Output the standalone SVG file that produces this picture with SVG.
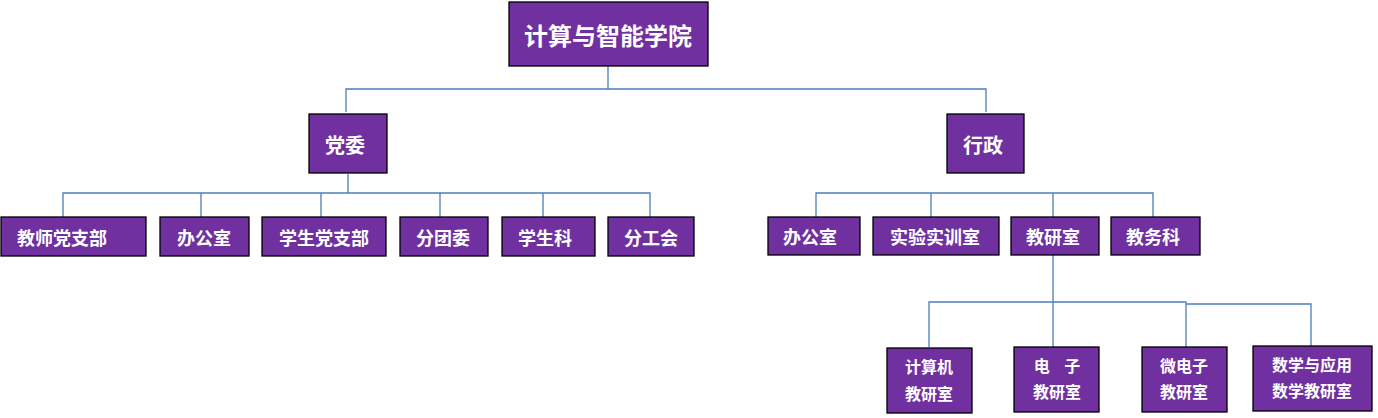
<svg xmlns="http://www.w3.org/2000/svg" width="1378" height="418" viewBox="0 0 1378 418">
<style>
.b{fill:#7030A0;stroke:#000;stroke-width:1.3}
text{fill:#fff;font-family:"Noto Sans CJK SC",sans-serif;font-weight:bold;text-anchor:middle;dominant-baseline:central}
.c{fill:none;stroke:#4A7EBB;stroke-width:1.3}
</style>
<rect width="1378" height="418" fill="#fff"/>
<g id="connectors" class="c">
<path d="M608 66V89M346 112V89H986V112"/>
<path d="M348 174V193M63 217V193H650V217M201 193V217M321 193V217M440 193V217M543 193V217"/>
<path d="M816 217V193H1153V217M931 193V217M1053 193V217"/>
<path d="M1053 255V347M929 347V302H1053M1053 302H1186V347M1186 304H1311V346"/>
</g>
<g id="n0"><rect class="b" x="509" y="2" width="199" height="64"/><text x="608" y="34" font-size="24">计算与智能学院</text></g>
<g id="n1"><rect class="b" x="309" y="114" width="78" height="59"/><text x="345" y="144" font-size="20">党委</text></g>
<g id="n2"><rect class="b" x="947" y="114" width="77" height="59"/><text x="983" y="144" font-size="20">行政</text></g>
<g id="l1"><rect class="b" x="1" y="217" width="145" height="39"/><text x="62" y="237" font-size="18">教师党支部</text></g>
<g id="l2"><rect class="b" x="160" y="217" width="89" height="39"/><text x="204" y="237" font-size="18">办公室</text></g>
<g id="l3"><rect class="b" x="262" y="217" width="124" height="39"/><text x="324" y="237" font-size="18">学生党支部</text></g>
<g id="l4"><rect class="b" x="400" y="217" width="88" height="39"/><text x="443" y="237" font-size="18">分团委</text></g>
<g id="l5"><rect class="b" x="502" y="217" width="93" height="39"/><text x="545" y="237" font-size="18">学生科</text></g>
<g id="l6"><rect class="b" x="608" y="217" width="86" height="39"/><text x="651" y="237" font-size="18">分工会</text></g>
<g id="r1"><rect class="b" x="768" y="217" width="92" height="38"/><text x="810" y="236" font-size="18">办公室</text></g>
<g id="r2"><rect class="b" x="873" y="217" width="126" height="38"/><text x="935" y="236" font-size="18">实验实训室</text></g>
<g id="r3"><rect class="b" x="1011" y="217" width="88" height="38"/><text x="1053" y="236" font-size="18">教研室</text></g>
<g id="r4"><rect class="b" x="1111" y="217" width="89" height="38"/><text x="1153" y="236" font-size="18">教务科</text></g>
<g id="t1"><rect class="b" x="887" y="348" width="85" height="65"/><text x="929" y="366" font-size="16">计算机</text><text x="929" y="393" font-size="16">教研室</text></g>
<g id="t2"><rect class="b" x="1014" y="347" width="85" height="65"/><text x="1057" y="365" font-size="16" xml:space="preserve">电    子</text><text x="1057" y="391" font-size="16">教研室</text></g>
<g id="t3"><rect class="b" x="1142" y="347" width="85" height="65"/><text x="1184" y="365" font-size="16">微电子</text><text x="1184" y="391" font-size="16">教研室</text></g>
<g id="t4"><rect class="b" x="1253" y="346" width="119" height="65"/><text x="1312" y="364" font-size="16">数学与应用</text><text x="1312" y="390" font-size="16">数学教研室</text></g>
</svg>
